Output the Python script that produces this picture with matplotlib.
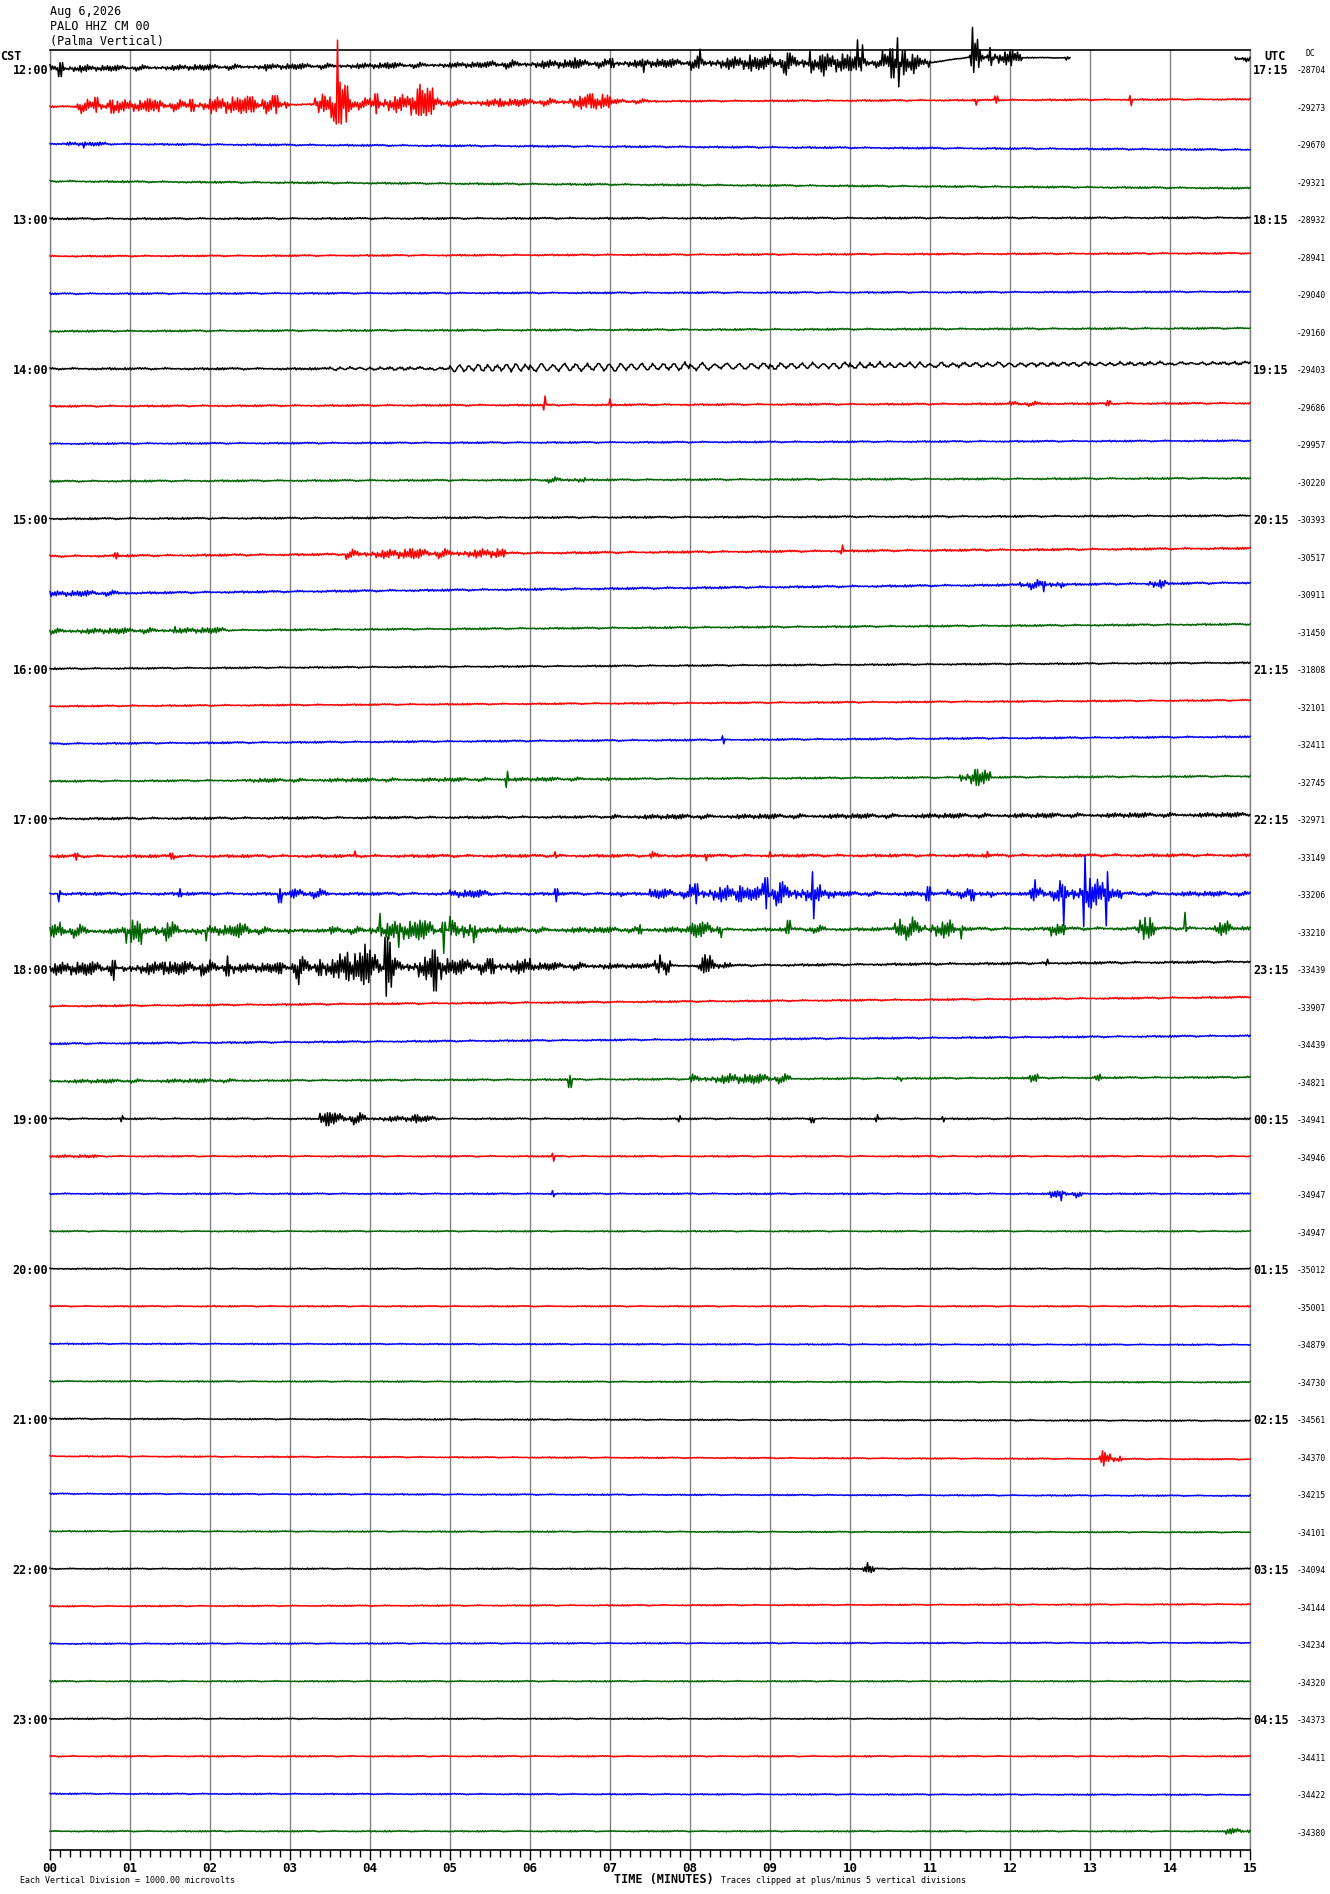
import numpy as np
import matplotlib
matplotlib.use('Agg')  # GUIなし
import matplotlib.pyplot as plt
from matplotlib.transforms import blended_transform_factory

# ---- 観測点情報 ----
station_date = 'Aug 6,2026'
station_name = 'PALO HHZ CM 00'
station_desc = '(Palma Vertical)'

# ---- 行ラベル (15分/行, 48行) ----
cst_labels = ['12:00', '13:00', '14:00', '15:00', '16:00', '17:00',
              '18:00', '19:00', '20:00', '21:00', '22:00', '23:00']
utc_labels = ['17:15', '18:15', '19:15', '20:15', '21:15', '22:15',
              '23:15', '00:15', '01:15', '02:15', '03:15', '04:15']
dc_values = [-28704, -29273, -29670, -29321, -28932, -28941, -29040, -29160,
             -29403, -29686, -29957, -30220, -30393, -30517, -30911, -31450,
             -31808, -32101, -32411, -32745, -32971, -33149, -33206, -33210,
             -33439, -33907, -34439, -34821, -34941, -34946, -34947, -34947,
             -35012, -35001, -34879, -34730, -34561, -34370, -34215, -34101,
             -34094, -34144, -34234, -34320, -34373, -34411, -34422, -34380]
minute_labels = ['00', '01', '02', '03', '04', '05', '06', '07',
                 '08', '09', '10', '11', '12', '13', '14', '15']
trace_colors = ['#000000', '#ff0000', '#0000ff', '#006400']

# ---- 波形データ (振幅は画素, 1行 = 37.5) ----
base_noise = [0.5, 0.9, 1.0, 1.0, 1.0, 0.9, 0.9, 1.0,
              1.2, 1.0, 0.9, 1.0, 1.0, 1.2, 1.2, 1.0,
              0.9, 0.9, 1.0, 1.0, 1.3, 1.6, 1.6, 1.8,
              1.3, 1.0, 1.0, 1.0, 0.9, 0.8, 0.8, 0.7,
              0.7, 0.7, 0.7, 0.7, 0.7, 0.7, 0.7, 0.7,
              0.7, 0.7, 0.7, 0.7, 0.7, 0.7, 0.7, 0.7]

# 振幅のばらつき (画像から読んだ相対的な山の高さ)
texture = [1.0, 0.35, 0.7, 0.15, 0.55, 0.9, 0.25, 0.45, 0.1, 0.8,
           0.3, 0.6, 0.2, 0.5, 0.05, 0.75, 0.4, 0.95, 0.15, 0.65,
           0.3, 0.85, 0.1, 0.5, 0.7, 0.2, 0.4, 0.05, 0.6, 0.35,
           0.9, 0.25, 0.5, 0.15, 0.7, 0.45, 0.3]

# 行末のドリフト (下向き正)
drift_end = [-10, -7, 6, 7, -1, -3, -2, -3,
             -5.5, -3, -3, -3, -3, -8, -11, -7,
             -6, -6, -7, -5, -4, -1, 0, -3,
             -7, -9, -8, -4, 0, 0, 0, 0,
             0, 0, 1, 1, 2, 3, 2, 1,
             0, -2, -1, 0, 0, 0, 1, 0]

# ドリフトが直線でない行
drift_knots = {
    0: [(0, 0), (7.5, -5.5), (11.0, -6), (11.47, -11.4), (15, -10)],
    1: [(0, 0.5), (7.5, -5), (15, -7)],
    8: [(0, 0), (5, 0), (15, -5.5)],
    24: [(0, 0), (8, -3), (15, -7)],
}

# 地震・ノイズ区間 (開始分, 終了分, 上振幅, 下振幅)
events = {
    0: [(0.0, 0.5, 4, 4), (0.1, 0.16, 6, 8), (0.5, 5.5, 3, 3),
        (2.7, 2.72, 2, 4), (4.2, 4.22, 3, 2), (5.5, 8.0, 4.5, 4.5),
        (6.56, 6.58, 6, 4), (7.0, 7.05, 5, 4), (7.4, 7.42, 2, 9),
        (8.0, 9.0, 7, 7), (8.1, 8.12, 14, 5), (8.5, 8.6, 6, 7),
        (8.75, 8.77, 8, 8), (9.0, 10.0, 10, 10), (9.2, 9.22, 10, 12),
        (9.5, 9.52, 12, 10), (9.65, 9.67, 8, 13), (10.0, 10.25, 8, 8),
        (10.07, 10.09, 23, 6), (10.13, 10.15, 18, 8), (10.25, 10.4, 5, 5),
        (10.4, 10.85, 12, 12), (10.5, 10.55, 14, 15), (10.58, 10.62, 25, 24),
        (10.65, 10.7, 12, 12), (10.85, 11.0, 5, 5),
        (11.5, 11.65, 14, 12), (11.52, 11.54, 30, 15), (11.58, 11.6, 18, 10),
        (11.65, 12.1, 8, 8), (11.75, 11.77, 10, 8), (12.0, 12.02, 6, 8),
        (12.1, 12.15, 3, 3), (12.68, 12.74, 1, 4), (14.8, 15.0, 3, 3)],
    1: [(0.3, 1.0, 7, 7), (0.55, 0.6, 9, 6), (0.75, 0.8, 6, 7),
        (1.0, 2.0, 6, 6), (1.2, 1.25, 7, 5), (1.35, 1.38, 4, 6),
        (1.75, 1.8, 6, 6), (2.0, 3.0, 9, 9), (2.5, 2.55, 8, 7),
        (2.65, 2.72, 15, 8), (2.8, 2.85, 9, 9), (3.3, 3.5, 9, 9),
        (3.4, 3.42, 10, 4), (3.5, 3.56, 2, 18), (3.57, 3.59, 64, 20),
        (3.59, 3.8, 22, 22), (3.62, 3.65, 22, 20), (3.7, 3.72, 18, 18),
        (3.8, 4.0, 6, 6), (4.0, 4.5, 10, 10), (4.05, 4.1, 10, 10),
        (4.5, 4.8, 16, 13), (4.6, 4.65, 19, 12), (4.7, 4.72, 15, 10),
        (4.8, 5.0, 6, 6), (5.0, 6.5, 4, 4), (5.6, 5.65, 4, 4),
        (6.5, 7.0, 8, 8), (6.75, 6.8, 8, 6), (7.0, 7.6, 2.5, 2.5),
        (11.55, 11.58, 1, 5), (11.8, 11.85, 4, 3), (13.5, 13.52, 4, 6)],
    2: [(0.2, 0.7, 2, 2), (0.4, 0.42, 1, 4)],
    9: [(6.17, 6.2, 9, 5), (7.0, 7.02, 6, 2), (12.0, 12.5, 2.5, 2.5),
        (13.2, 13.25, 3, 2)],
    11: [(6.2, 6.7, 3, 3)],
    13: [(0.8, 0.85, 3, 3), (3.7, 5.7, 5, 5), (4.5, 4.55, 5, 4),
         (9.88, 9.92, 6, 3)],
    14: [(0.0, 1.0, 3, 3), (12.1, 12.7, 5, 5), (12.4, 12.45, 3, 7),
         (13.7, 13.95, 5, 5)],
    15: [(0.0, 2.2, 3, 3), (1.55, 1.58, 4, 2)],
    18: [(8.4, 8.43, 4, 4)],
    19: [(2.5, 7.0, 2, 2), (5.69, 5.73, 8, 8), (11.35, 11.75, 8, 9),
         (11.55, 11.6, 8, 8)],
    20: [(7.0, 15.0, 2.5, 2.5)],
    21: [(0.3, 0.35, 3, 4), (1.5, 1.55, 3, 3), (3.8, 3.82, 5, 1),
         (6.3, 6.32, 4, 2), (7.5, 7.7, 4, 4), (8.2, 8.22, 1, 5),
         (9.0, 9.02, 4, 1), (11.7, 11.72, 4, 2)],
    22: [(0.1, 0.13, 3, 8), (1.6, 1.65, 5, 3), (2.85, 2.9, 5, 9),
         (3.0, 3.5, 5, 5), (5.0, 5.5, 4, 4), (6.3, 6.35, 5, 8),
         (7.0, 7.2, 4, 4), (7.5, 8.0, 5, 5), (8.0, 8.5, 9, 9),
         (8.05, 8.1, 10, 10), (8.5, 8.9, 7, 7), (8.6, 8.65, 8, 8),
         (8.9, 9.4, 12, 12), (8.93, 8.97, 16, 15), (9.1, 9.15, 11, 9),
         (9.4, 9.65, 10, 10), (9.53, 9.56, 22, 25), (9.65, 9.8, 5, 5),
         (9.8, 11.0, 2.5, 2.5), (10.95, 11.0, 7, 7), (11.2, 11.8, 5, 5),
         (11.5, 11.55, 4, 7), (12.25, 12.6, 7, 7), (12.29, 12.32, 14, 7),
         (12.6, 12.9, 13, 13), (12.65, 12.67, 8, 32), (12.9, 13.0, 22, 22),
         (12.92, 12.95, 38, 33), (13.0, 13.25, 16, 16), (13.2, 13.23, 22, 32),
         (13.25, 13.4, 5, 5), (13.5, 15.0, 2.5, 2.5)],
    23: [(0.0, 0.5, 7, 7), (0.12, 0.15, 9, 4), (0.5, 0.9, 3, 3),
         (0.9, 1.0, 5, 5), (0.93, 0.96, 3, 12), (1.0, 1.15, 12, 14),
         (1.15, 1.3, 3, 3), (1.3, 1.6, 9, 10), (1.45, 1.48, 8, 9),
         (1.6, 1.9, 5, 5), (1.94, 1.97, 3, 10), (2.0, 2.3, 6, 5),
         (2.3, 2.5, 8, 8), (2.5, 3.0, 4, 4), (3.5, 4.0, 4, 4),
         (4.0, 4.2, 8, 8), (4.12, 4.15, 17, 3), (4.2, 4.8, 10, 10),
         (4.35, 4.38, 4, 17), (4.6, 4.63, 10, 6), (4.8, 4.9, 5, 5),
         (4.9, 4.95, 8, 23), (5.0, 5.33, 14, 18), (5.33, 8.0, 3, 3),
         (5.6, 5.62, 5, 2), (7.35, 7.4, 5, 4), (8.0, 8.4, 8, 8),
         (9.2, 9.25, 9, 4), (9.5, 9.7, 4, 4), (10.55, 10.95, 12, 11),
         (10.6, 10.65, 10, 6), (11.0, 11.3, 10, 10), (11.38, 11.42, 3, 10),
         (12.5, 12.7, 5, 8), (13.6, 13.8, 12, 12), (13.66, 13.68, 11, 9),
         (14.18, 14.2, 16, 3), (14.55, 14.75, 8, 8)],
    24: [(0.0, 0.8, 7, 7), (0.78, 0.82, 8, 12), (0.9, 1.0, 3, 10),
         (1.0, 2.0, 7, 7), (1.4, 1.45, 6, 5), (1.88, 1.92, 4, 8),
         (2.0, 2.3, 8, 8), (2.2, 2.24, 12, 8), (2.3, 3.0, 5, 5),
         (2.85, 2.9, 5, 6), (3.0, 3.6, 11, 11), (3.1, 3.14, 8, 17),
         (3.35, 3.4, 8, 8), (3.6, 3.85, 15, 15), (3.7, 3.74, 15, 12),
         (3.85, 4.0, 18, 18), (3.92, 3.95, 23, 17), (4.0, 4.3, 15, 15),
         (4.18, 4.22, 30, 29), (4.25, 4.28, 25, 20), (4.3, 4.6, 9, 9),
         (4.6, 4.9, 14, 14), (4.78, 4.83, 17, 24), (4.9, 5.0, 9, 9),
         (5.0, 6.0, 8, 8), (5.5, 5.55, 8, 7), (6.0, 7.0, 4, 4),
         (6.0, 6.03, 8, 3), (7.0, 7.55, 2.5, 2.5), (7.55, 7.75, 11, 9),
         (7.6, 7.63, 11, 7), (8.1, 8.3, 11, 8), (8.18, 8.2, 11, 6),
         (8.3, 8.5, 3, 3), (12.45, 12.48, 4, 2)],
    27: [(0.0, 2.5, 2, 2), (6.47, 6.52, 4, 8), (8.0, 9.25, 5, 5),
         (8.5, 8.6, 6, 5), (8.75, 8.85, 5, 5), (10.55, 10.65, 4, 4),
         (12.25, 12.35, 4, 4), (13.05, 13.15, 4, 4)],
    28: [(0.88, 0.92, 3, 3), (3.37, 3.95, 6, 6), (3.45, 3.5, 6, 7),
         (3.95, 4.9, 3, 3), (4.55, 4.6, 4, 4), (7.85, 7.87, 3, 3),
         (9.5, 9.55, 1, 4), (10.32, 10.35, 4, 3), (11.15, 11.18, 2, 3)],
    29: [(0.0, 0.6, 1.5, 1.5), (6.28, 6.3, 3, 5)],
    30: [(6.27, 6.3, 3, 3), (12.5, 12.9, 3, 4), (12.62, 12.65, 2, 7)],
    37: [(13.12, 13.25, 7, 7), (13.15, 13.17, 8, 7), (13.25, 13.4, 3, 3)],
    40: [(10.17, 10.3, 4, 4), (10.19, 10.21, 6, 3)],
    47: [(14.7, 15.0, 3, 3)],
}

# 長周期の揺れ (開始分, 終了分, 振幅, 半周期数/分)
waves = {
    8: [(3.5, 5.0, 1.5, 16), (5.0, 6.0, 5, 17), (6.0, 7.0, 5.5, 14),
        (7.0, 8.0, 5, 15), (8.0, 9.0, 4.5, 13), (9.0, 10.0, 4, 15),
        (10.0, 11.0, 3.5, 16), (11.0, 12.0, 3, 14), (12.0, 13.0, 2.5, 15),
        (13.0, 14.0, 2, 16), (14.0, 15.0, 1.5, 15)],
}

# データ欠損
gaps = {0: [(12.75, 14.8)]}

# ---- 図の作成 ----
W, H = 1330, 1894
LINE_PX = 37.5
N_ROWS = 48
mono = 'DejaVu Sans Mono'

fig = plt.figure(figsize=(W / 100, H / 100), dpi=100)
ax = fig.add_axes([50 / W, 44 / H, 1200 / W, 1800 / H])
ax.set_xlim(0, 15)
ax.set_ylim(N_ROWS, 0)

t = np.linspace(0, 15, 15 * 64 + 1)
idx = np.arange(t.size)
alt = idx % 2 == 0
tex = np.array(texture)

for row in range(N_ROWS):
    knots = drift_knots.get(row, [(0, 0), (15, drift_end[row])])
    kt, kv = zip(*knots)
    base = np.interp(t, kt, kv)

    # ずらした位置からばらつきを当てる
    shift = row * 7
    tx = tex[(idx + shift) % tex.size]
    up = base_noise[row] * tx
    dn = base_noise[row] * tex[(idx + shift + 11) % tex.size]
    for t0, t1, a_up, a_dn in events.get(row, []):
        m = (t >= t0) & (t <= t1)
        i0 = np.searchsorted(t, t0)
        m[i0:i0 + 2] = True
        if t1 - t0 > 0.06:
            u = a_up * tx[m]
            d = a_dn * tex[(idx[m] + shift + 5) % tex.size]
        else:
            u, d = a_up, a_dn
        up[m] = np.maximum(up[m], u)
        dn[m] = np.maximum(dn[m], d)
    off = base + np.where(alt, -up, dn)

    for t0, t1, amp, rate in waves.get(row, []):
        n = int(round((t1 - t0) * rate))
        j = np.arange(n + 1)
        wt = np.linspace(t0, t1, n + 1)
        wv = np.where(j % 2 == 0, -amp, amp) * (0.45 + 0.55 * tex[(j + 3) % tex.size])
        m = (t >= t0) & (t < t1)
        off[m] += np.interp(t[m], wt, wv)

    y = row + 0.5 + off / LINE_PX
    for g0, g1 in gaps.get(row, []):
        y[(t > g0) & (t < g1)] = np.nan

    ax.plot(t, y, color=trace_colors[row % 4], lw=1.1, clip_on=False,
            zorder=3)

# 軸・グリッド
ax.set_xticks(range(16))
ax.set_xticklabels(minute_labels, fontfamily=mono, fontweight='bold',
                   fontsize=9)
ax.set_xticks(np.arange(0, 15.001, 0.125), minor=True)
ax.tick_params(axis='x', which='major', direction='out', length=7.2,
               width=1, pad=1.5, colors='black')
ax.tick_params(axis='x', which='minor', direction='out', length=5,
               width=1)
ax.set_yticks([])
ax.grid(axis='x', which='major', color='#808080', lw=1.0, zorder=1)
for side in ['left', 'right']:
    ax.spines[side].set_color('#808080')
    ax.spines[side].set_linewidth(1.0)
for side in ['top', 'bottom']:
    ax.spines[side].set_color('black')
    ax.spines[side].set_linewidth(1.2)

# 行ラベル
tr_left = blended_transform_factory(fig.transFigure, ax.transData)
for k, lab in enumerate(cst_labels):
    ax.text(48 / W, 4 * k + 0.55, lab, transform=tr_left, ha='right',
            va='center', fontfamily=mono, fontweight='bold', fontsize=8.5)
for k, lab in enumerate(utc_labels):
    ax.text(1253 / W, 4 * k + 0.55, lab, transform=tr_left, ha='left',
            va='center', fontfamily=mono, fontweight='bold', fontsize=8.5)
for row, dc in enumerate(dc_values):
    ax.text(1311 / W, row + 0.55, f'{dc}', transform=tr_left, ha='center',
            va='center', fontfamily=mono, fontsize=5.8)


def fp(x, y):
    return x / W, 1 - y / H


# ヘッダー
fig.text(*fp(50, 12), station_date, ha='left', va='center',
         fontfamily=mono, fontsize=8.5)
fig.text(*fp(50, 26.5), station_name, ha='left', va='center',
         fontfamily=mono, fontsize=8.5)
fig.text(*fp(50, 42), station_desc, ha='left', va='center',
         fontfamily=mono, fontsize=8.5)
fig.text(*fp(0, 57), 'CST', ha='left', va='center',
         fontfamily=mono, fontweight='bold', fontsize=8.5)
fig.text(*fp(1275, 57), 'UTC', ha='center', va='center',
         fontfamily=mono, fontweight='bold', fontsize=8.5)
fig.text(*fp(1310, 54), 'DC', ha='center', va='center',
         fontfamily=mono, fontsize=5.8)

# フッター
fig.text(*fp(20, 1880), 'Each Vertical Division = 1000.00 microvolts',
         ha='left', va='center', fontfamily=mono, fontsize=6)
fig.text(*fp(614, 1879), 'TIME (MINUTES)', ha='left', va='center',
         fontfamily=mono, fontweight='bold', fontsize=8.5)
fig.text(*fp(721, 1880), 'Traces clipped at plus/minus 5 vertical divisions',
         ha='left', va='center', fontfamily=mono, fontsize=6)

fig.savefig('out.png', dpi=100)
plt.close(fig)
